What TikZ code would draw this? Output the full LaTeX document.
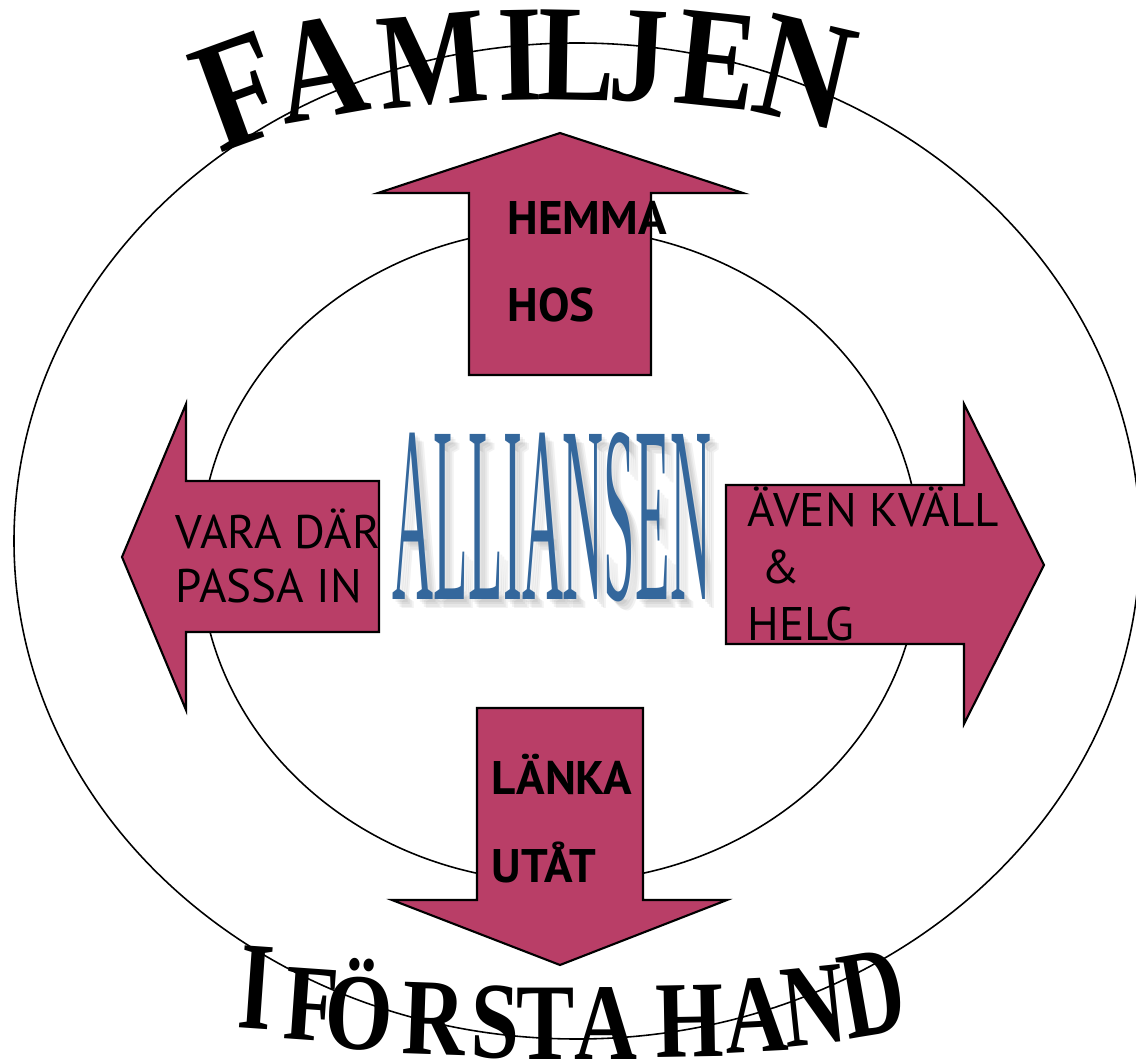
\documentclass[tikz,border=0pt]{standalone}
\usepackage{fontspec}
\newfontfamily\fmsans{PT Sans}
\newfontfamily\fmserif{Liberation Serif}
\definecolor{fmrose}{RGB}{185,62,103}
\definecolor{fmblue}{RGB}{52,103,156}
\tikzset{
    fmring/.style={draw=black, line width=0.45pt},
    fmarrow/.style={draw=black, line width=0.6pt, fill=fmrose, line join=miter},
    fmlbl/.style={anchor=base west, inner sep=0pt, align=left, font=\fmsans\fontsize{13.4}{#1}\selectfont},
    fmtop/.style={anchor=base, inner sep=0pt, xscale=0.84, font=\fmserif\bfseries\fontsize{39}{39}\selectfont},
    fmbot/.style={anchor=base, inner sep=0pt, xscale=0.8, font=\fmserif\bfseries\fontsize{31}{31}\selectfont},
    fmtitle/.style={anchor=base, inner sep=0pt, xscale=0.225, font=\fmserif\fontsize{71.7}{72}\selectfont},
}

\begin{document}
\begin{tikzpicture}[x=0.01cm, y=0.01cm]
    \useasboundingbox (0,0) rectangle (1136,-1064);
    % arched words
    \foreach \ch/\x/\y/\r/\s [count=\i] in {F/258/140/20/1.15, A/329/117/10/1.08, M/437/105/5/1.0, I/521/100/1/1.0, L/576/100/-1/1.0, J/636/101/-3/1.0, E/712/107/-6/1.04, N/794/121/-13/1.12}
        \node[rotate=\r, fmtop, scale=\s] (fam\i) at (\x,-\y) {\ch};
    \foreach \ch/\x/\y/\r/\s [count=\i] in {I/253/1029/-4/1.15, F/309/1040/-4/1.0, Ö/357/1049/-3/1.0, R/433/1055/-2/1.0, S/495/1058/-1/1.0, T/546/1059/0/1.0, A/606/1059/0/1.0, H/690/1057/1/1.0, A/758/1052/3/1.02, N/818/1044/6/1.08, D/880/1034/10/1.15}
        \node[rotate=\r, fmbot, yscale=\s] (hand\i) at (\x,-\y) {\ch};
    % rings
    \draw[fmring] (577,-541) ellipse [x radius=563, y radius=498];
    \draw[fmring] (560,-555) ellipse [x radius=360, y radius=327];
    % arrows
    \draw[fmarrow] (469,-375) -- (469,-193) -- (378,-193) -- (560,-133) -- (743,-193) -- (651,-193) -- (651,-375) -- cycle;
    \draw[fmarrow] (379,-481) -- (186,-481) -- (186,-404) -- (122,-557) -- (186,-710) -- (186,-632) -- (379,-632) -- cycle;
    \draw[fmarrow] (726,-485) -- (964,-485) -- (964,-404) -- (1044,-565) -- (964,-724) -- (964,-644) -- (726,-644) -- cycle;
    \draw[fmarrow] (477,-708) -- (643,-708) -- (643,-900) -- (727,-900) -- (560,-965) -- (392,-900) -- (477,-900) -- cycle;
    \node[fmlbl=24.75] (hemma) at (507,-322) {\bfseries HEMMA\\\bfseries HOS};
    \node[fmlbl=15.6] (vara) at (175,-603) {VARA DÄR\\PASSA IN};
    \node[fmlbl=16.2] (aven) at (747,-640) {ÄVEN KVÄLL\\\hspace*{0.3em}\&\\HELG};
    \node[fmlbl=24.75] (lanka) at (491,-882) {\bfseries LÄNKA\\\bfseries UTÅT};
    % centre word with soft shadow
    \foreach \d [count=\i] in {3,5,7,9}
        \node[fmtitle, text=black, opacity=0.05] (allishadow\i) at (552+\d,-600-\d) {ALLIANSEN};
    \node[fmtitle, text=fmblue] (alli) at (552,-600) {ALLIANSEN};
\end{tikzpicture}
\end{document}
